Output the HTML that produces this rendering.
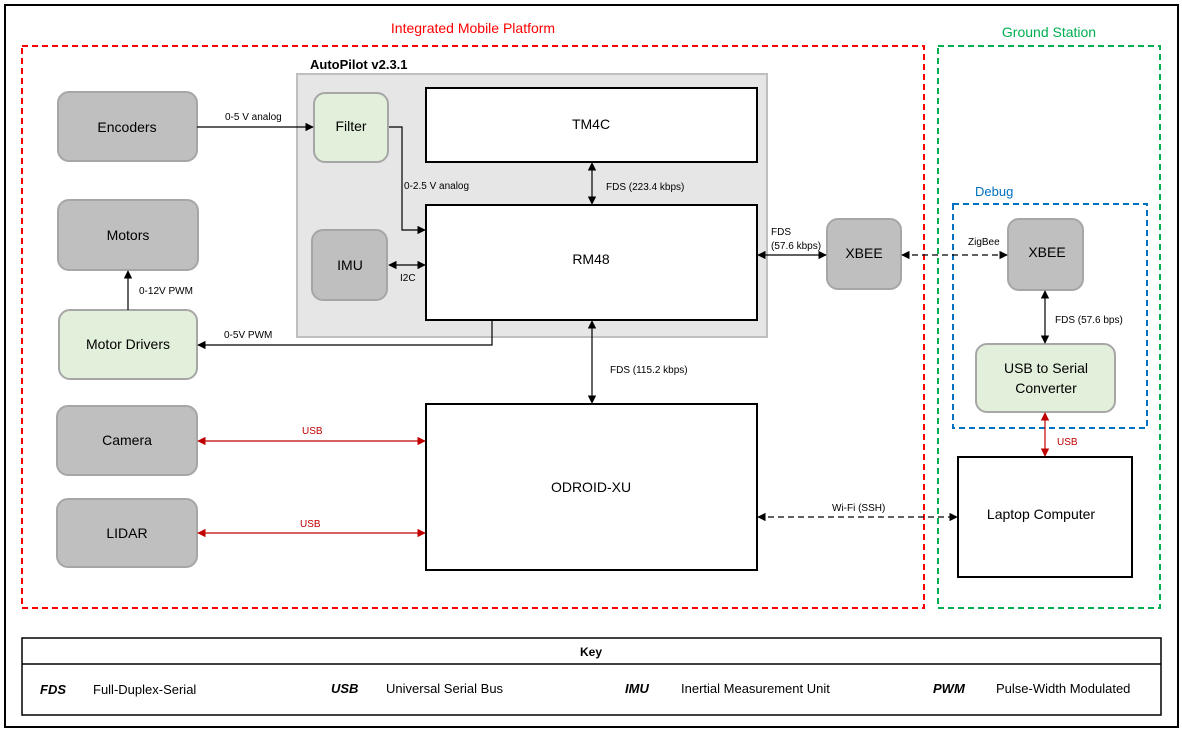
<!DOCTYPE html>
<html><head><meta charset="utf-8"><style>body{margin:0;background:#fff}svg{display:block;font-family:"Liberation Sans",sans-serif}</style></head><body>
<svg width="1182" height="732" viewBox="0 0 1182 732">
<defs>
<marker id="a" viewBox="0 0 10 10" refX="9" refY="5" markerWidth="7" markerHeight="7" orient="auto-start-reverse"><path d="M0,0L10,5L0,10z" fill="#000"/></marker>
<marker id="r" viewBox="0 0 10 10" refX="9" refY="5" markerWidth="7" markerHeight="7" orient="auto-start-reverse"><path d="M0,0L10,5L0,10z" fill="#c00000"/></marker>
</defs>
<rect x="5" y="5" width="1173" height="722" fill="none" stroke="#000" stroke-width="2"/>
<rect x="22" y="46" width="902" height="562" fill="none" stroke="#ff0000" stroke-width="2" stroke-dasharray="6,4"/>
<rect x="938" y="46" width="222" height="562" fill="none" stroke="#00b050" stroke-width="2" stroke-dasharray="6,4"/>
<text x="473" y="33" font-size="14" fill="#ff0000" text-anchor="middle">Integrated Mobile Platform</text>
<text x="1049" y="37" font-size="14" fill="#00b050" text-anchor="middle">Ground Station</text>
<rect x="297" y="74" width="470" height="263" fill="#e6e6e6" stroke="#bfbfbf" stroke-width="2"/>
<text x="310" y="69" font-size="13" font-weight="bold">AutoPilot v2.3.1</text>
<rect x="953" y="204" width="194" height="224" fill="none" stroke="#0070c0" stroke-width="2" stroke-dasharray="6,4"/>
<text x="975" y="196" font-size="13" fill="#0070c0">Debug</text>
<g stroke="#a6a6a6" stroke-width="2" fill="#bfbfbf" >
<rect x="58" y="92" width="139" height="69" rx="11"/>
<rect x="58" y="200" width="140" height="70" rx="11"/>
<rect x="57" y="406" width="140" height="69" rx="11"/>
<rect x="57" y="499" width="140" height="68" rx="11"/>
<rect x="312" y="230" width="75" height="70" rx="11"/>
<rect x="827" y="219" width="74" height="70" rx="11"/>
<rect x="1008" y="219" width="75" height="71" rx="11"/>
<rect x="59" y="310" width="138" height="69" rx="11" fill="#e2efda"/>
<rect x="314" y="93" width="74" height="69" rx="11" fill="#e2efda"/>
<rect x="976" y="344" width="139" height="68" rx="11" fill="#e2efda"/>
</g>
<g stroke="#000" stroke-width="2" fill="#fff">
<rect x="426" y="88" width="331" height="74"/>
<rect x="426" y="205" width="331" height="115"/>
<rect x="426" y="404" width="331" height="166"/>
<rect x="958" y="457" width="174" height="120"/>
</g>
<g font-size="14" text-anchor="middle" fill="#000">
<text x="127" y="132">Encoders</text>
<text x="128" y="240">Motors</text>
<text x="128" y="349">Motor Drivers</text>
<text x="127" y="445">Camera</text>
<text x="127" y="538">LIDAR</text>
<text x="351" y="131">Filter</text>
<text x="350" y="270">IMU</text>
<text x="591" y="129">TM4C</text>
<text x="591" y="264">RM48</text>
<text x="591" y="492">ODROID-XU</text>
<text x="864" y="258">XBEE</text>
<text x="1047" y="257">XBEE</text>
<text x="1046" y="373">USB to Serial</text>
<text x="1046" y="393">Converter</text>
<text x="1041" y="519">Laptop Computer</text>
</g>
<g stroke="#000" stroke-width="1.2" fill="none">
<line x1="197" y1="127" x2="313" y2="127" marker-end="url(#a)"/>
<polyline points="389,127 402,127 402,230 425,230" marker-end="url(#a)"/>
<line x1="389" y1="265" x2="425" y2="265" marker-start="url(#a)" marker-end="url(#a)"/>
<line x1="592" y1="163" x2="592" y2="204" marker-start="url(#a)" marker-end="url(#a)"/>
<polyline points="492,320 492,345 198,345" marker-end="url(#a)"/>
<line x1="128" y1="310" x2="128" y2="271" marker-end="url(#a)"/>
<line x1="592" y1="321" x2="592" y2="403" marker-start="url(#a)" marker-end="url(#a)"/>
<line x1="758" y1="255" x2="826" y2="255" marker-start="url(#a)" marker-end="url(#a)"/>
<line x1="902" y1="255" x2="1007" y2="255" stroke-dasharray="6,4" marker-start="url(#a)" marker-end="url(#a)"/>
<line x1="1045" y1="291" x2="1045" y2="343" marker-start="url(#a)" marker-end="url(#a)"/>
<line x1="758" y1="517" x2="957" y2="517" stroke-dasharray="6,4" marker-start="url(#a)" marker-end="url(#a)"/>
</g>
<g stroke="#c00000" stroke-width="1.2">
<line x1="198" y1="441" x2="425" y2="441" marker-start="url(#r)" marker-end="url(#r)"/>
<line x1="198" y1="533" x2="425" y2="533" marker-start="url(#r)" marker-end="url(#r)"/>
<line x1="1045" y1="413" x2="1045" y2="456" marker-start="url(#r)" marker-end="url(#r)"/>
</g>
<g font-size="10" fill="#000">
<text x="225" y="120">0-5 V analog</text>
<text x="404" y="189">0-2.5 V analog</text>
<text x="400" y="281">I2C</text>
<text x="606" y="190">FDS (223.4 kbps)</text>
<text x="224" y="338">0-5V PWM</text>
<text x="139" y="294">0-12V PWM</text>
<text x="610" y="373">FDS (115.2 kbps)</text>
<text x="771" y="235">FDS</text>
<text x="771" y="249">(57.6 kbps)</text>
<text x="968" y="245">ZigBee</text>
<text x="1055" y="323">FDS (57.6 bps)</text>
<text x="832" y="511">Wi-Fi (SSH)</text>
<text x="302" y="434" fill="#c00000">USB</text>
<text x="300" y="527" fill="#c00000">USB</text>
<text x="1057" y="445" fill="#c00000">USB</text>
</g>
<rect x="22" y="638" width="1139" height="77" fill="none" stroke="#000" stroke-width="1.5"/>
<line x1="22" y1="664" x2="1161" y2="664" stroke="#000" stroke-width="1.5"/>
<text x="591" y="656" font-size="12" font-weight="bold" text-anchor="middle">Key</text>
<g font-size="13">
<text x="40" y="694" font-weight="bold" font-style="italic">FDS</text><text x="93" y="694">Full-Duplex-Serial</text>
<text x="331" y="693" font-weight="bold" font-style="italic">USB</text><text x="386" y="693">Universal Serial Bus</text>
<text x="625" y="693" font-weight="bold" font-style="italic">IMU</text><text x="681" y="693">Inertial Measurement Unit</text>
<text x="933" y="693" font-weight="bold" font-style="italic">PWM</text><text x="996" y="693">Pulse-Width Modulated</text>
</g>
</svg>
</body></html>
